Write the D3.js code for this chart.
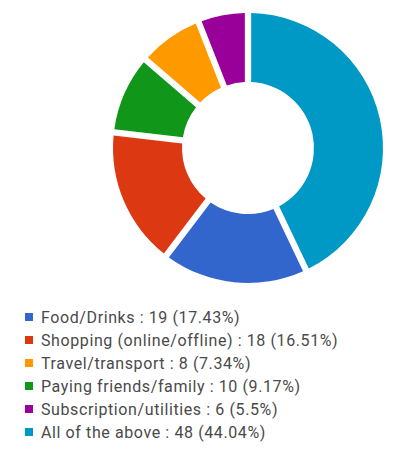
<!DOCTYPE html>
<html>
<head>
<meta charset="utf-8">
<script src="https://cdn.jsdelivr.net/npm/d3@7"></script>
<style>
  html, body { margin: 0; padding: 0; background: #fff; }
  svg { display: block; }
</style>
</head>
<body>
<svg id="chart" width="415" height="454"></svg>
<script>
// Spending categories and response counts
const categories = [
  "Food/Drinks",
  "Shopping (online/offline)",
  "Travel/transport",
  "Paying friends/family",
  "Subscription/utilities",
  "All of the above"
];
const counts = [19, 18, 8, 10, 6, 48];
const percentLabels = ["17.43%", "16.51%", "7.34%", "9.17%", "5.5%", "44.04%"];
const colors = ["#3366CC", "#DC3912", "#FF9900", "#109618", "#990099", "#0099C6"];

const svg = d3.select("#chart");

const cx = 248, cy = 148;
const outerR = 135, innerR = 66;

const data = categories.map((c, i) => ({ name: c, value: counts[i], pct: percentLabels[i], color: colors[i] }));

// slices are ordered largest first, clockwise from 12 o'clock
const pie = d3.pie()
  .value(d => d.value)
  .sort((a, b) => b.value - a.value)
  .padAngle(0.042);

const arc = d3.arc()
  .innerRadius(innerR)
  .outerRadius(outerR)
  .padRadius(150);

svg.append("g")
  .attr("transform", `translate(${cx},${cy})`)
  .selectAll("path")
  .data(pie(data))
  .join("path")
  .attr("d", arc)
  .attr("fill", d => d.data.color);

// legend
const rowY = d3.scalePoint()
  .domain(categories)
  .range([317, 432]);

const legend = svg.append("g")
  .selectAll("g")
  .data(data)
  .join("g")
  .attr("transform", d => `translate(25,${rowY(d.name)})`);

legend.append("rect")
  .attr("x", 0)
  .attr("y", -4)
  .attr("width", 8)
  .attr("height", 8)
  .attr("fill", d => d.color);

legend.append("text")
  .attr("x", 16)
  .attr("y", 6)
  .attr("font-family", "Roboto, sans-serif")
  .attr("font-size", 16)
  .attr("letter-spacing", 0.6)
  .attr("fill", "#4a4a4a")
  .text(d => `${d.name} : ${d.value} (${d.pct})`);
</script>
</body>
</html>
